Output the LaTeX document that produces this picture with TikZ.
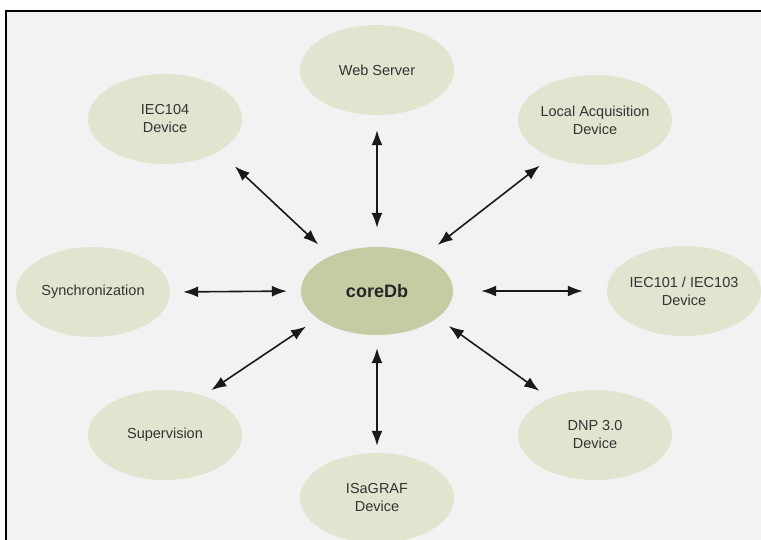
\documentclass[tikz,border=0pt]{standalone}
\usepackage{fontspec}
\setmainfont{Liberation Sans}
\usetikzlibrary{shapes.geometric,arrows.meta}
\definecolor{bgcol}{HTML}{F2F2F2}
\definecolor{devcol}{HTML}{E1E5CF}
\definecolor{corecol}{HTML}{C5CBA3}
\definecolor{txtcol}{HTML}{333333}
\tikzset{
  devnode/.style={ellipse, fill=devcol, minimum width=154pt, minimum height=90pt,
    inner sep=0pt, align=center, text=txtcol, font=\fontsize{14.5}{18}\selectfont},
  corenode/.style={ellipse, fill=corecol, minimum width=152pt, minimum height=88pt,
    inner sep=0pt, text=black!85, font=\fontsize{18}{20}\selectfont\bfseries},
  link/.style={{Latex[length=15pt,width=11pt]}-{Latex[length=15pt,width=11pt]},
    line width=1.6pt, draw=black!90}
}
\begin{document}
\begin{tikzpicture}[x=1pt,y=-1pt]
\useasboundingbox (0,0) rectangle (761,540);
\fill[bgcol] (6,11) rectangle (761,540);
\draw[line width=1.5pt] (6,540) -- (6,11) -- (761,11);

\node[corenode] (core) at (377,291) {coreDb};
\node[devnode] (web) at (377,70) {Web Server};
\node[devnode] (iec104) at (165,119) {IEC104\\Device};
\node[devnode] (local) at (595,120) {Local Acquisition\\Device};
\node[devnode] (sync) at (93,292) {Synchronization};
\node[devnode] (iec101) at (684,291) {IEC101 / IEC103\\Device};
\node[devnode] (superv) at (165,435) {Supervision};
\node[devnode] (dnp) at (595,435) {DNP 3.0\\Device};
\node[devnode] (isagraf) at (377,498) {ISaGRAF\\Device};

\draw[link, shorten <=15pt, shorten >=19pt] (web.south) -- (core.north);
\draw[link, shorten <=13pt, shorten >=7pt] (core.south) -- (isagraf.north);
\draw[link, shorten <=13pt, shorten >=14pt] (sync.east) -- (core.west);
\draw[link, shorten <=28pt, shorten >=24pt] (core.east) -- (iec101.west);
\draw[link, shorten <=22pt, shorten >=17pt] (iec104.-31) -- (core.143);
\draw[link, shorten <=14pt, shorten >=18pt] (local.220) -- (core.37);
\draw[link, shorten <=10pt, shorten >=14pt] (superv.46) -- (core.205);
\draw[link, shorten <=14pt, shorten >=13pt] (core.-24) -- (dnp.141);
\end{tikzpicture}
\end{document}
